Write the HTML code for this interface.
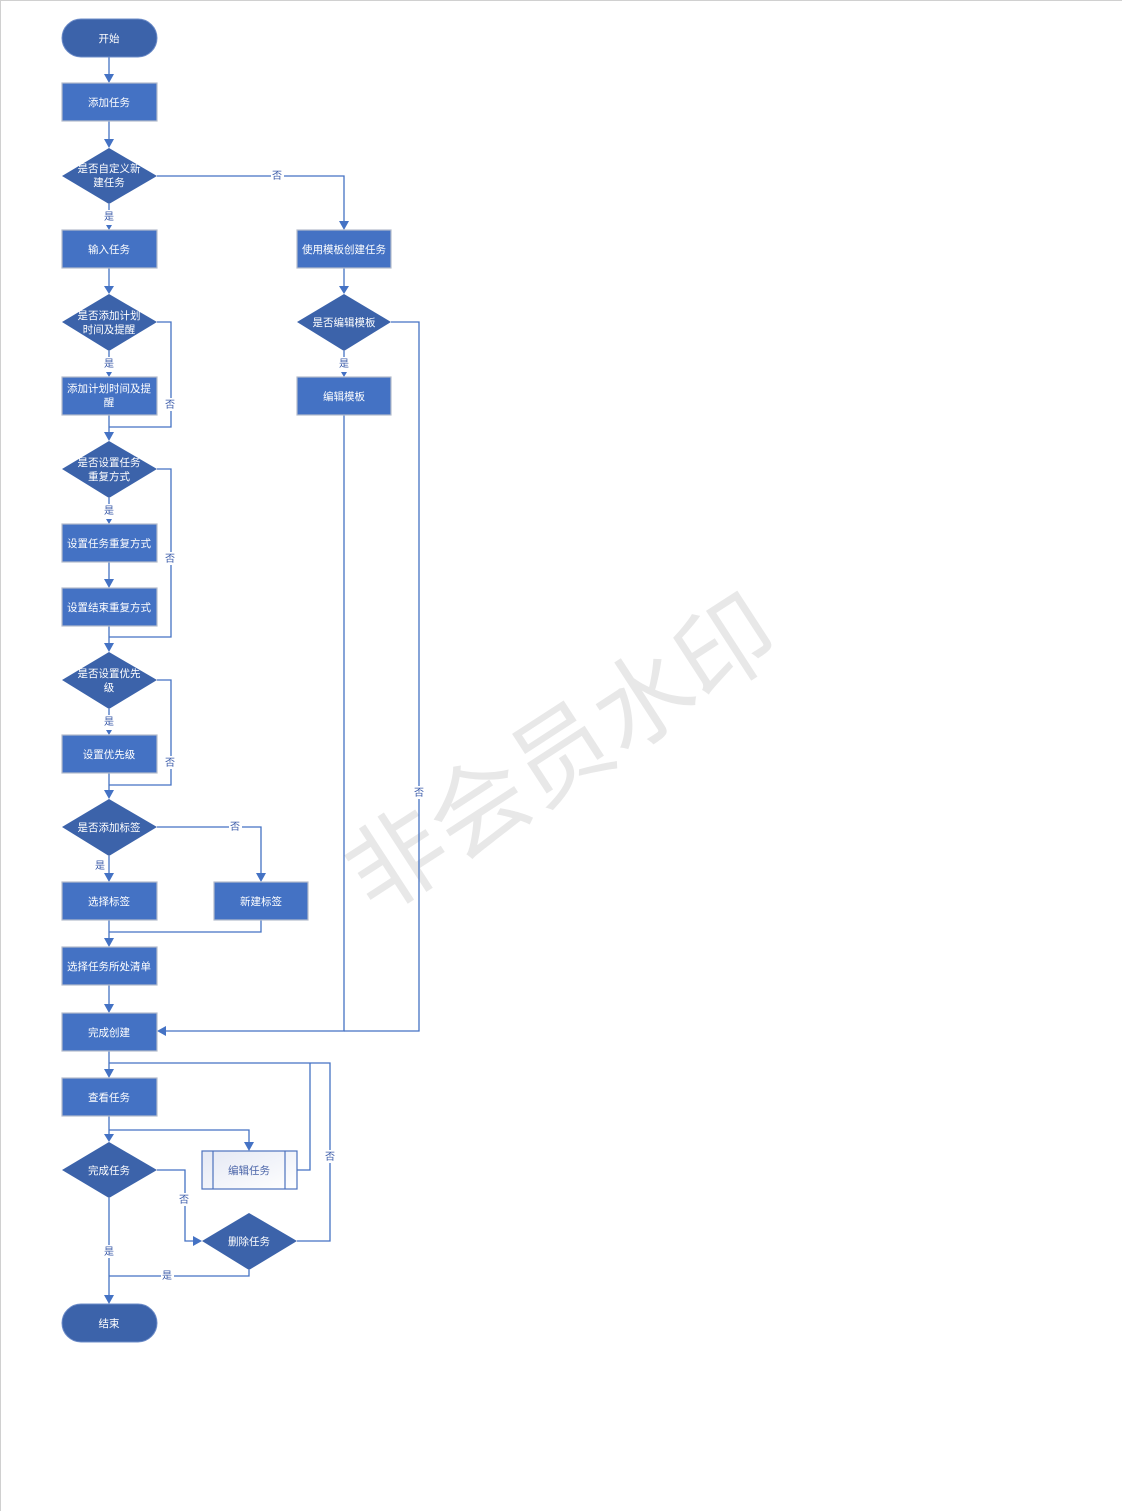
<!DOCTYPE html>
<html><head><meta charset="utf-8"><style>
html,body{margin:0;padding:0;background:#fff;}
svg{display:block;}
text{font-family:"Liberation Sans","Noto Sans CJK SC",sans-serif;}
</style></head><body>
<svg width="1122" height="1511" viewBox="0 0 1122 1511" xmlns="http://www.w3.org/2000/svg">
<defs>
<linearGradient id="g" x1="0" y1="0" x2="1" y2="1"><stop offset="0" stop-color="#e4e8f4"/><stop offset="1" stop-color="#ffffff"/></linearGradient>
</defs>
<rect x="0" y="0" width="1122" height="1511" fill="#fff"/>
<line x1="0" y1="0.5" x2="1122" y2="0.5" stroke="#d0d0d0"/>
<line x1="0.5" y1="0" x2="0.5" y2="1511" stroke="#d0d0d0"/>
<!-- watermark -->
<text x="562" y="788" font-size="98" fill="#e8e8e8" text-anchor="middle" transform="rotate(-33 562 755)">非会员水印</text>

<g fill="none" stroke="#4472C4" stroke-width="1.3">
<path d="M109 57V75"/>
<path d="M109 121V140"/>
<path d="M157 176H344V222"/>
<path d="M109 204V222"/>
<path d="M109 268V287"/>
<path d="M344 268V287"/>
<path d="M109 351V370"/>
<path d="M157 322H171V427H109"/>
<path d="M109 415V433"/>
<path d="M344 351V370"/>
<path d="M109 498V516"/>
<path d="M157 469H171V637H109"/>
<path d="M109 562V580"/>
<path d="M109 626V644"/>
<path d="M109 709V727"/>
<path d="M157 680H171V785H109"/>
<path d="M109 773V791"/>
<path d="M157 827H261V874"/>
<path d="M109 856V874"/>
<path d="M261 920V932H109"/>
<path d="M109 920V939"/>
<path d="M109 985V1005"/>
<path d="M344 415V1031H166"/>
<path d="M391 322H419V1031H344"/>
<path d="M109 1051V1070"/>
<path d="M109 1063H330V1241H297"/>
<path d="M297 1170H310V1063"/>
<path d="M109 1116V1135"/>
<path d="M109 1130H249V1143"/>
<path d="M157 1170H185V1241H194"/>
<path d="M109 1198V1296"/>
<path d="M249 1270V1276H109"/>
</g>
<g fill="#4472C4">
<polygon points="104,74 114,74 109,83"/>
<polygon points="104,139 114,139 109,148"/>
<polygon points="339,221 349,221 344,230"/>
<polygon points="106,225 112,225 109,230"/>
<polygon points="104,286 114,286 109,294"/>
<polygon points="339,286 349,286 344,294"/>
<polygon points="106,372 112,372 109,377"/>
<polygon points="341,372 347,372 344,377"/>
<polygon points="104,432 114,432 109,441"/>
<polygon points="106,519 112,519 109,524"/>
<polygon points="104,579 114,579 109,588"/>
<polygon points="104,643 114,643 109,652"/>
<polygon points="106,730 112,730 109,735"/>
<polygon points="104,790 114,790 109,799"/>
<polygon points="104,873 114,873 109,882"/>
<polygon points="256,873 266,873 261,882"/>
<polygon points="104,938 114,938 109,947"/>
<polygon points="104,1004 114,1004 109,1013"/>
<polygon points="166,1026 166,1036 157,1031"/>
<polygon points="104,1069 114,1069 109,1078"/>
<polygon points="104,1134 114,1134 109,1142"/>
<polygon points="244,1142 254,1142 249,1151"/>
<polygon points="193,1236 193,1246 202,1241"/>
<polygon points="104,1295 114,1295 109,1304"/>
</g>
<rect x="62" y="19" width="95" height="38" rx="19" fill="#3C63AA" stroke="#6d8cc8"/>
<rect x="62" y="1304" width="95" height="38" rx="19" fill="#3C63AA" stroke="#6d8cc8"/>
<g fill="#4472C4" stroke="#b4bccc" stroke-width="1.2">
<rect x="62" y="83" width="95" height="38"/>
<rect x="62" y="230" width="95" height="38"/>
<rect x="297" y="230" width="94" height="38"/>
<rect x="62" y="377" width="95" height="38"/>
<rect x="297" y="377" width="94" height="38"/>
<rect x="62" y="524" width="95" height="38"/>
<rect x="62" y="588" width="95" height="38"/>
<rect x="62" y="735" width="95" height="38"/>
<rect x="62" y="882" width="95" height="38"/>
<rect x="214" y="882" width="94" height="38"/>
<rect x="62" y="947" width="95" height="38"/>
<rect x="62" y="1013" width="95" height="38"/>
<rect x="62" y="1078" width="95" height="38"/>
</g>
<rect x="202" y="1151" width="95" height="38" fill="url(#g)" stroke="#4d72bd" stroke-width="1.2"/>
<line x1="213" y1="1151" x2="213" y2="1189" stroke="#4d72bd" stroke-width="1.2"/>
<line x1="285" y1="1151" x2="285" y2="1189" stroke="#4d72bd" stroke-width="1.2"/>
<g fill="#3C63AA">
<polygon points="62,176 109,148 157,176 109,204"/>
<polygon points="62,322 109,294 157,322 109,351"/>
<polygon points="297,322 344,294 391,322 344,351"/>
<polygon points="62,469 109,441 157,469 109,498"/>
<polygon points="62,680 109,652 157,680 109,709"/>
<polygon points="62,827 109,799 157,827 109,856"/>
<polygon points="62,1170 109,1142 157,1170 109,1198"/>
<polygon points="202,1241 249,1213 297,1241 249,1270"/>
</g>
<g font-size="10.5" fill="#fff" text-anchor="middle">
<text x="109" y="42">开始</text>
<text x="109" y="106">添加任务</text>
<text x="109" y="172">是否自定义新</text><text x="109" y="186">建任务</text>
<text x="109" y="253">输入任务</text>
<text x="344" y="253">使用模板创建任务</text>
<text x="109" y="319">是否添加计划</text><text x="109" y="333">时间及提醒</text>
<text x="344" y="326">是否编辑模板</text>
<text x="109" y="392">添加计划时间及提</text><text x="109" y="406">醒</text>
<text x="344" y="400">编辑模板</text>
<text x="109" y="466">是否设置任务</text><text x="109" y="480">重复方式</text>
<text x="109" y="547">设置任务重复方式</text>
<text x="109" y="611">设置结束重复方式</text>
<text x="109" y="677">是否设置优先</text><text x="109" y="691">级</text>
<text x="109" y="758">设置优先级</text>
<text x="109" y="831">是否添加标签</text>
<text x="109" y="905">选择标签</text>
<text x="261" y="905">新建标签</text>
<text x="109" y="970">选择任务所处清单</text>
<text x="109" y="1036">完成创建</text>
<text x="109" y="1101">查看任务</text>
<text x="109" y="1174">完成任务</text>
<text x="249" y="1245">删除任务</text>
<text x="109" y="1327">结束</text>
</g>
<text x="249" y="1174" font-size="10.5" fill="#4a64a8" text-anchor="middle">编辑任务</text>
<g fill="#fff">
<rect x="271" y="169" width="13" height="13"/>
<rect x="103" y="210" width="13" height="13"/>
<rect x="103" y="357" width="13" height="13"/>
<rect x="164" y="398" width="13" height="13"/>
<rect x="337" y="357" width="13" height="13"/>
<rect x="103" y="504" width="13" height="13"/>
<rect x="164" y="552" width="13" height="13"/>
<rect x="103" y="715" width="13" height="13"/>
<rect x="164" y="756" width="13" height="13"/>
<rect x="229" y="820" width="13" height="13"/>
<rect x="412" y="786" width="13" height="13"/>
<rect x="178" y="1193" width="13" height="13"/>
<rect x="323" y="1150" width="13" height="13"/>
<rect x="103" y="1245" width="13" height="13"/>
<rect x="161" y="1269" width="13" height="13"/>
</g>
<g font-size="10" fill="#3a5aa8" text-anchor="middle">
<text x="277" y="179">否</text>
<text x="109" y="220">是</text>
<text x="109" y="367">是</text>
<text x="170" y="408">否</text>
<text x="344" y="367">是</text>
<text x="109" y="514">是</text>
<text x="170" y="562">否</text>
<text x="109" y="725">是</text>
<text x="170" y="766">否</text>
<text x="235" y="830">否</text>
<text x="100" y="869">是</text>
<text x="419" y="796">否</text>
<text x="184" y="1203">否</text>
<text x="330" y="1160">否</text>
<text x="109" y="1255">是</text>
<text x="167" y="1279">是</text>
</g>
</svg>
</body></html>
